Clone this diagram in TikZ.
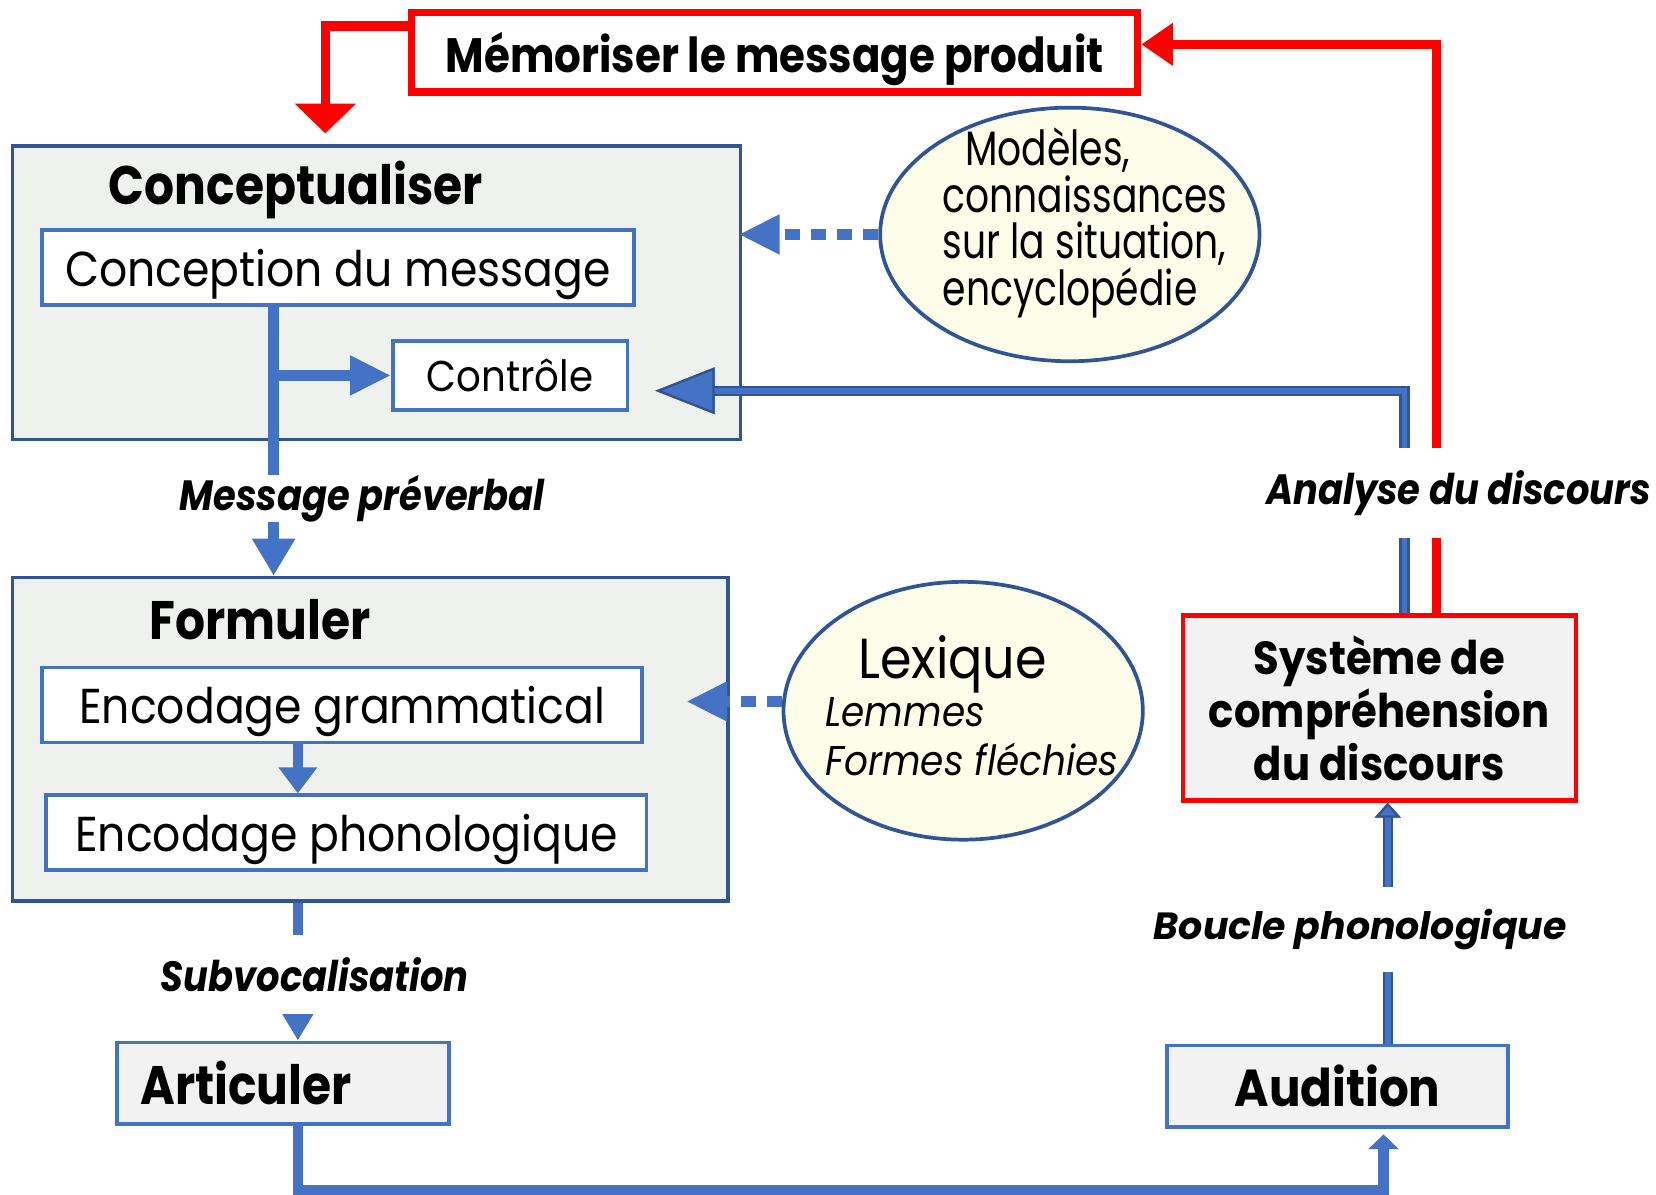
\documentclass[tikz,border=0pt]{standalone}
\usepackage{fontspec}
\setmainfont{Poppins}
\newfontfamily\slimfont{Poppins}[FakeStretch=0.78]
\newfontfamily\headfont{Poppins}[FakeStretch=0.87]
\newfontfamily\plainfont{Poppins}[FakeStretch=0.9]
\usepackage{tikz}
\usetikzlibrary{arrows.meta,calc,shapes.geometric,positioning}
\definecolor{boxblue}{HTML}{4472C4}
\definecolor{edgeblue}{HTML}{2F5597}
\definecolor{panelgray}{HTML}{EFF1EE}
\definecolor{boxgray}{HTML}{F2F2F2}
\definecolor{notecream}{HTML}{FEFDEA}
\definecolor{memored}{HTML}{FF0000}
\tikzset{panel/.style={draw=edgeblue,line width=1pt,fill=panelgray,inner sep=0pt},
         subbox/.style={draw=boxblue,line width=1pt,fill=white,inner sep=0pt,text depth=0pt,font=\plainfont\fontsize{13.2}{16}\selectfont},
         endbox/.style={draw=boxblue,line width=1pt,fill=boxgray,inner sep=0pt},
         note/.style={ellipse,draw=edgeblue,line width=1pt,fill=notecream,inner sep=0pt},
         headline/.style={font=\headfont\bfseries\fontsize{14.6}{17}\selectfont},
         tag/.style={fill=white,inner xsep=1pt,inner ysep=6pt,font=\headfont\bfseries\itshape\fontsize{11.4}{13}\selectfont},
         flow/.style={draw=boxblue,line width=2.8pt},
         memoline/.style={draw=memored,line width=2.6pt},
         dots/.style={draw=boxblue,line width=2.8pt,dash pattern=on 4pt off 3pt},
         twin/.style={draw=boxblue,line width=1.5pt,preaction={draw=edgeblue,line width=2.8pt}}}

\begin{document}
\begin{tikzpicture}[x=0.01cm,y=-0.01cm]
            \useasboundingbox (0,0) rectangle (1568,1131);
            % main boxes
            \node[panel,minimum width=6.89cm,minimum height=2.78cm] (concept) at (356.5,277) {};
            \node[panel,minimum width=6.77cm,minimum height=3.06cm] (formuler) at (350.5,700) {};
            \node[headline] (concepttitle) at ($(concept.north west)+(270,44)$) {Conceptualiser};
            \node[headline] (formulertitle) at ($(formuler.north west)+(236,42)$) {Formuler};
            \node[subbox,minimum width=5.6cm,minimum height=0.71cm] (conception) at (320,253.5) {Conception du message};
            \node[subbox,minimum width=2.22cm,minimum height=0.65cm,font=\plainfont\fontsize{11.6}{14}\selectfont] (controle) at (483,355.5) {Contrôle};
            \node[subbox,minimum width=5.68cm,minimum height=0.71cm] (encgram) at (324,667.5) {Encodage grammatical};
            \node[subbox,minimum width=5.68cm,minimum height=0.71cm] (encphon) at (328,788.5) {Encodage phonologique};
            \node[endbox,minimum height=0.77cm,text width=2.7cm,inner xsep=0.22cm,align=left,headline] (articuler) at (268,1025.5) {Articuler};
            \node[endbox,minimum width=3.23cm,minimum height=0.77cm,font=\plainfont\bfseries\fontsize{14}{17}\selectfont] (audition) at (1266.5,1028.5) {Audition};
            \node[draw=memored,line width=1.2pt,fill=boxgray,minimum width=3.72cm,minimum height=1.75cm,align=center,
                  font=\plainfont\bfseries\fontsize{12.5}{14.2}\selectfont] (systeme) at (1306,670.5) {Système de\\compréhension\\du discours};
            \node[draw=memored,line width=2pt,fill=white,minimum width=6.87cm,minimum height=0.75cm,text depth=0pt,
                  font=\headfont\bfseries\fontsize{13}{16}\selectfont] (memo) at (733.5,49.5) {Mémoriser le message produit};
            % knowledge
            \node[note,minimum width=3.59cm,minimum height=2.4cm] (modeles) at (1013,222) {};
            \node[anchor=west,align=left,inner sep=0pt,font=\slimfont\fontsize{13}{12.5}\selectfont] (modelestxt) at (892,211)
                 {\hspace*{6pt}Modèles,\\connaissances\\sur la situation,\\encyclopédie};
            \node[note,minimum width=3.4cm,minimum height=2.44cm] (lexique) at (912,673) {};
            \node[anchor=west,align=left,inner sep=0pt,font=\plainfont\fontsize{11.2}{13}\selectfont] (lexiquetxt) at (781,668)
                 {\hspace*{8.8pt}{\fontsize{15.2}{17}\selectfont Lexique}\\\itshape Lemmes\\\itshape Formes fléchies};
            % connectors
            \coordinate (mv) at ($(conception.south west)+(221,0)$);
            \coordinate (sv) at ($(formuler.south west)+(272,0)$);
            \coordinate (hv) at ($(audition.north)+(47.5,0)$);
            \draw[flow,-{Triangle[length=10pt,width=11pt]}] (mv) -- (mv |- formuler.north);
            \draw[flow,-{Triangle[length=11pt,width=10pt]}] (mv |- controle.west) -- (controle.west);
            \draw[flow,-{Triangle[length=7pt,width=10pt]}] (encgram.south -| sv) -- (encphon.north -| sv);
            \draw[flow,-{Triangle[length=9pt,width=10pt]}] (sv) -- (sv |- articuler.north);
            \draw[flow,-{Triangle[length=4pt,width=8pt]},shorten >=1.5pt] (articuler.south -| sv) -- ++(0,61) -| ($(audition.south)+(43.5,0)$);
            \draw[dots,-{Triangle[length=11pt,width=10pt]},shorten >=-1pt] (modeles.west) -- (modeles.west -| concept.east);
            \draw[dots,-{Triangle[length=11pt,width=10pt]},shorten >=-11.7pt] ([yshift=2.5pt]lexique.west) -- ([yshift=2.5pt]lexique.west -| formuler.east);
            \draw[twin,-{Triangle[length=4pt,width=7pt,color=edgeblue,fill=boxblue,line width=0.6pt]}] (hv) -- (hv |- systeme.south);
            \draw[twin,-{Triangle[length=16pt,width=12.5pt,color=edgeblue,fill=boxblue,line width=0.6pt]},shorten >=7pt]
                 ($(systeme.north)+(24,0)$) |- ($(controle.east)+(0,14.5)$);
            \draw[memoline,-{Triangle[length=8.5pt,width=11pt]}] ($(systeme.north)+(54,0)$) |- ($(memo.east)+(0,-7.5)$);
            \draw[memoline,-{Triangle[length=8pt,width=16pt]},shorten >=2.8pt] ($(memo.north west)+(0,16)$) -| ($(concept.north west)+(298,0)$);
            % labels
            \node[tag,inner ysep=0pt] (msgtag) at (343,472) {Message préverbal};
            \node[tag] (subtag) at (298,923) {Subvocalisation};
            \node[tag] (anatag) at (1381,467) {Analyse du discours};
            \node[tag,font=\bfseries\itshape\fontsize{10.2}{12}\selectfont] (bouctag) at (1288,880) {Boucle phonologique};
        \end{tikzpicture}
\end{document}
